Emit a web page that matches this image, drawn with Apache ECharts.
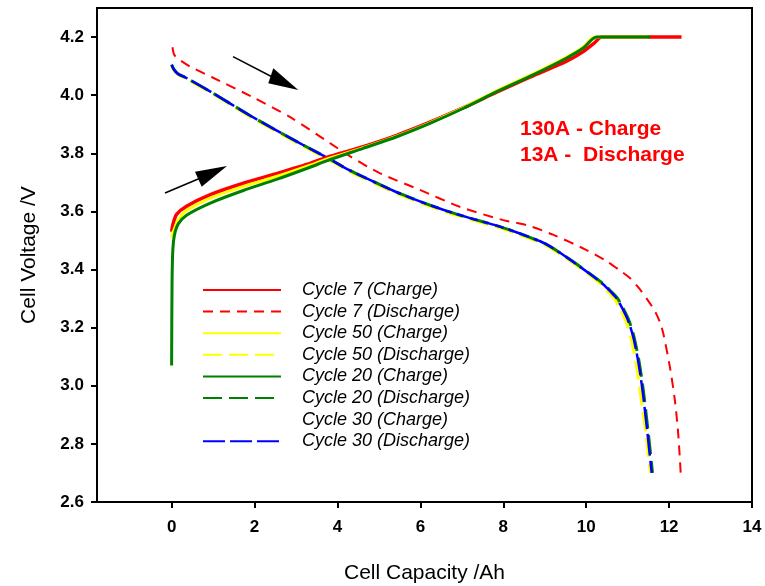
<!DOCTYPE html>
<html><head><meta charset="utf-8">
<script src="https://cdn.jsdelivr.net/npm/echarts@6/dist/echarts.min.js"></script>
<style>html,body{margin:0;padding:0;background:#fff}#c{width:765px;height:586px}</style>
</head><body><div id="c"></div>
<script>
// ---- data ----
const xTicks = [0, 2, 4, 6, 8, 10, 12, 14];
const yTicks = [2.6, 2.8, 3.0, 3.2, 3.4, 3.6, 3.8, 4.0, 4.2];

const capC7 = [0, 0.04, 0.12, 0.36, 0.92, 1.73, 2.53, 3.34, 3.74, 4.62, 5.43, 6.23, 7.04, 7.84, 8.64, 9.53, 9.93, 10.2, 10.37, 11.0, 12.3];
const vC7   = [3.53, 3.56, 3.59, 3.618, 3.657, 3.697, 3.73, 3.765, 3.786, 3.823, 3.862, 3.907, 3.957, 4.01, 4.062, 4.117, 4.15, 4.18, 4.2, 4.2, 4.2];

const capC50 = [0, 0.04, 0.16, 0.36, 0.92, 1.73, 2.53, 3.34, 3.74, 4.62, 5.43, 6.23, 7.04, 7.84, 8.72, 9.53, 9.93, 10.2, 11.5];
const vC50   = [3.51, 3.53, 3.57, 3.603, 3.645, 3.686, 3.72, 3.759, 3.78, 3.819, 3.859, 3.905, 3.957, 4.015, 4.073, 4.131, 4.166, 4.2, 4.2];

const capC20 = [0, 0.01, 0.03, 0.07, 0.16, 0.36, 0.92, 1.73, 2.53, 3.34, 3.74, 4.62, 5.43, 6.23, 7.04, 7.84, 8.72, 9.53, 9.93, 10.25, 11.54];
const vC20   = [3.07, 3.35, 3.47, 3.52, 3.557, 3.587, 3.628, 3.672, 3.71, 3.752, 3.774, 3.817, 3.857, 3.903, 3.955, 4.012, 4.07, 4.128, 4.162, 4.2, 4.2];

const capD7 = [0.02, 0.06, 0.16, 0.44, 1.0, 2.0, 2.85, 3.82, 4.3, 5.03, 5.99, 6.95, 8.0, 8.56, 9.2, 10.01, 10.5, 10.8, 11.06, 11.25, 11.46, 11.6, 11.7, 11.78, 11.86, 12.02, 12.14, 12.22, 12.28];
const vD7   = [4.165, 4.14, 4.125, 4.099, 4.06, 3.99, 3.925, 3.835, 3.79, 3.731, 3.674, 3.616, 3.57, 3.553, 3.52, 3.467, 3.428, 3.398, 3.37, 3.34, 3.30, 3.27, 3.245, 3.218, 3.18, 3.064, 2.95, 2.835, 2.70];

const capD30 = [0, 0.05, 0.15, 0.36, 1.0, 1.89, 3.1, 3.74, 4.26, 4.86, 5.43, 6.07, 6.63, 7.2, 7.84, 8.4, 9.0, 9.45, 10.09, 10.4, 10.6, 10.74, 10.86, 10.98, 11.06, 11.14, 11.2, 11.26, 11.32, 11.38, 11.48, 11.58];
const vD30   = [4.105, 4.09, 4.074, 4.059, 4.007, 3.93, 3.834, 3.786, 3.744, 3.703, 3.666, 3.63, 3.602, 3.577, 3.551, 3.524, 3.49, 3.45, 3.385, 3.35, 3.322, 3.30, 3.27, 3.235, 3.205, 3.165, 3.125, 3.08, 3.025, 2.96, 2.835, 2.70];

const capD20 = [0, 0.05, 0.15, 0.36, 1.0, 1.89, 3.1, 3.74, 4.26, 4.86, 5.43, 6.07, 6.63, 7.2, 7.84, 8.4, 9.0, 9.45, 10.1, 10.42, 10.62, 10.76, 10.88, 11.0, 11.08, 11.16, 11.22, 11.28, 11.34, 11.4, 11.5, 11.6];
const vD20   = [4.105, 4.09, 4.074, 4.059, 4.007, 3.93, 3.834, 3.786, 3.744, 3.703, 3.666, 3.63, 3.602, 3.577, 3.551, 3.524, 3.49, 3.45, 3.385, 3.35, 3.322, 3.30, 3.27, 3.235, 3.205, 3.165, 3.125, 3.08, 3.025, 2.96, 2.835, 2.70];

const capD50 = [0, 0.05, 0.15, 0.36, 1.0, 1.89, 3.1, 3.74, 4.26, 4.86, 5.43, 6.07, 6.63, 7.2, 7.84, 8.4, 9.0, 9.45, 10.05, 10.35, 10.54, 10.68, 10.8, 10.92, 11.0, 11.08, 11.14, 11.2, 11.26, 11.32, 11.44, 11.55];
const vD50   = [4.103, 4.088, 4.072, 4.056, 4.004, 3.926, 3.83, 3.782, 3.74, 3.699, 3.662, 3.626, 3.598, 3.573, 3.547, 3.52, 3.486, 3.446, 3.385, 3.35, 3.322, 3.30, 3.27, 3.235, 3.205, 3.165, 3.125, 3.08, 3.025, 2.96, 2.835, 2.70];

const names = ['Cycle 7 (Charge)', 'Cycle 7 (Discharge)', 'Cycle 50 (Charge)', 'Cycle 50 (Discharge)',
               'Cycle 20 (Charge)', 'Cycle 20 (Discharge)', 'Cycle 30 (Charge)', 'Cycle 30 (Discharge)'];
const notes = ['130A - Charge', '13A -  Discharge'];

// ---- build ----
const zip = (a, b) => a.map((x, i) => [x, b[i]]);
const FONT = 'Liberation Sans, Arial, sans-serif';
function ser(name, xs, ys, color, width, dash) {
  return {
    name, type: 'line', data: zip(xs, ys), symbol: 'none', smooth: 0.25,
    lineStyle: { color, width, type: dash || 'solid' }, itemStyle: { color },
    emphasis: { disabled: true }
  };
}
const series = [
  ser(names[1], capD7, vD7, '#ff0000', 2, [10, 7]),
  ser(names[3], capD50, vD50, '#ffff00', 3, [19, 7]),
  ser(names[5], capD20, vD20, '#008000', 3, [19, 7]),
  ser(names[7], capD30, vD30, '#0000ff', 2.5, [22, 5]),
  ser(names[0], capC7, vC7, '#ff0000', 3.5),
  ser(names[2], capC50, vC50, '#ffff00', 3),
  ser(names[4], capC20, vC20, '#008000', 3),
  ser(names[6], [], [], '#ffffff', 3)
];

const chart = echarts.init(document.getElementById('c'), null, { renderer: 'canvas' });
chart.setOption({
  animation: false,
  backgroundColor: '#fff',
  grid: { left: 97, right: 13, top: 8, bottom: 84, show: true, borderColor: '#000', borderWidth: 2,
          outerBoundsMode: 'none', containLabel: false },
  xAxis: {
    type: 'value', min: -1.8, max: 14,
    name: 'Cell Capacity /Ah', nameLocation: 'middle', nameGap: 61,
    nameTextStyle: { fontFamily: FONT, fontSize: 21, color: '#000' },
    axisLine: { onZero: false, lineStyle: { color: '#000', width: 2 } },
    axisTick: { show: true, length: 6, lineStyle: { color: '#000', width: 2 }, customValues: xTicks },
    axisLabel: { customValues: xTicks, margin: 17, fontFamily: FONT, fontSize: 17, fontWeight: 'bold', color: '#000' },
    splitLine: { show: false }
  },
  yAxis: {
    type: 'value', min: 2.6, max: 4.3,
    name: 'Cell Voltage /V', nameLocation: 'middle', nameGap: 57,
    nameTextStyle: { fontFamily: FONT, fontSize: 21, color: '#000' },
    axisLine: { onZero: false, lineStyle: { color: '#000', width: 2 } },
    axisTick: { show: true, length: 6, lineStyle: { color: '#000', width: 2 }, customValues: yTicks },
    axisLabel: { customValues: yTicks, margin: 13, fontFamily: FONT, fontSize: 17, fontWeight: 'bold', color: '#000',
                 formatter: v => v.toFixed(1) },
    splitLine: { show: false }
  },
  legend: {
    data: names, orient: 'vertical', left: 197, top: 276,
    itemWidth: 78, itemHeight: 14, itemGap: 3.6, selectedMode: false,
    itemStyle: { opacity: 0 },
    textStyle: { fontFamily: FONT, fontSize: 18, fontStyle: 'italic', color: '#000', lineHeight: 18, padding: [0, 0, 0, 16] }
  },
  graphic: [
    { type: 'text', left: 520, top: 119, style: { text: notes[0], font: 'bold 21px ' + FONT, fill: '#ff0000' } },
    { type: 'text', left: 520, top: 145, style: { text: notes[1], font: 'bold 21px ' + FONT, fill: '#ff0000' } },
    { type: 'line', shape: { x1: 165, y1: 193, x2: 210, y2: 174 }, style: { stroke: '#000', lineWidth: 1.5 } },
    { type: 'polygon', shape: { points: [[227, 166], [195, 171.7], [201.7, 186.7]] }, style: { fill: '#000' } },
    { type: 'line', shape: { x1: 233, y1: 56.7, x2: 280, y2: 81 }, style: { stroke: '#000', lineWidth: 1.5 } },
    { type: 'polygon', shape: { points: [[298.3, 90], [273.3, 68.3], [268.3, 83.3]] }, style: { fill: '#000' } }
  ],
  series
});
</script></body></html>
